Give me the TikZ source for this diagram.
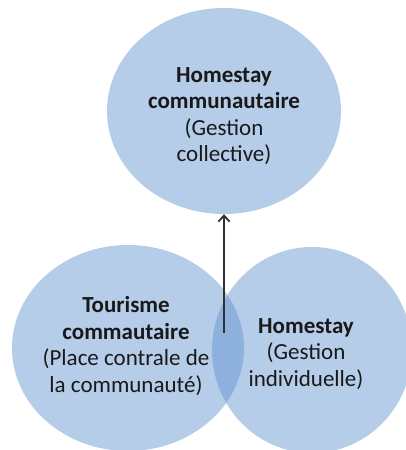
\documentclass[tikz,border=0pt]{standalone}
\usepackage{fontspec}
\setmainfont{Carlito}
\usetikzlibrary{shapes.geometric,arrows.meta}
\definecolor{bubble}{RGB}{94,146,208}
\definecolor{arrowgray}{RGB}{50,50,50}
\begin{document}
\begin{tikzpicture}[x=1pt,y=-1pt,
  bubblebox/.style={ellipse,draw=none,fill=bubble,fill opacity=0.45,inner sep=0pt},
  label/.style={align=center,text=black!90,font=\fontsize{23}{26.5}\selectfont,inner sep=0pt}]
\useasboundingbox (0,0) rectangle (406,450);
\clip (0,0) rectangle (406,450);
\fill[white] (0,0) rectangle (406,450);
\node[bubblebox,minimum width=234pt,minimum height=206pt] (top) at (224,111) {};
\node[bubblebox,minimum width=232pt,minimum height=206pt] (left) at (128,348) {};
\node[bubblebox,minimum width=200pt,minimum height=206pt] (right) at (312,350) {};
\node[label] (toptext) at (224,116) {\textbf{Homestay}\\\textbf{communautaire}\\(Gestion\\collective)};
\node[label] (lefttext) at (126,346) {\textbf{Tourisme}\\\textbf{commautaire}\\(Place contrale de\\la communauté)};
\node[label] (righttext) at (306,354) {\textbf{Homestay}\\(Gestion\\individuelle)};
\coordinate (start) at (224,333);
\draw[arrowgray,line width=2.4pt,-{Straight Barb[length=6pt,width=11pt,line width=1.8pt]}] (start) -- (top.south);
\end{tikzpicture}
\end{document}
